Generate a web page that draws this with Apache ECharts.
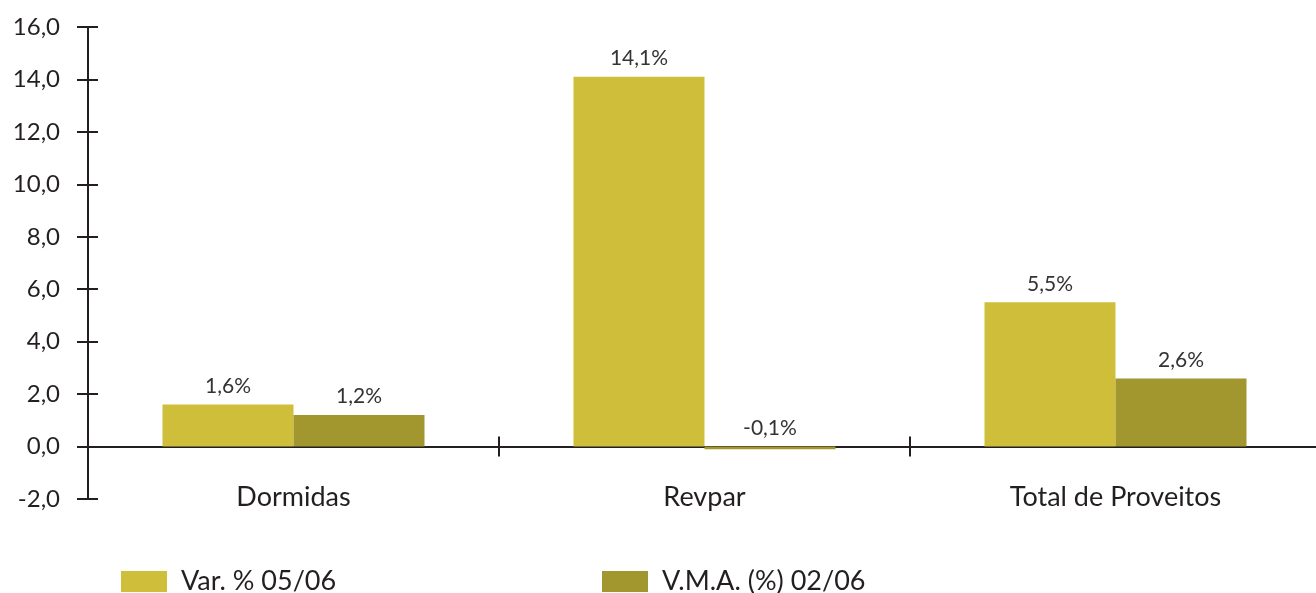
<!DOCTYPE html>
<html>
<head>
<meta charset="utf-8">
<script src="https://cdn.jsdelivr.net/npm/echarts@6/dist/echarts.min.js"></script>
<style>
  html, body { margin: 0; padding: 0; background: #fff; }
  #chart { width: 1316px; height: 593px; }
</style>
</head>
<body>
<div id="chart"></div>
<script>
// Indicator categories
const categories = ['Dormidas', 'Revpar', 'Total de Proveitos'];
// Series names
const seriesNames = ['Var. % 05/06', 'V.M.A. (%) 02/06'];
// Values (%)
const varValues = [1.6, 14.1, 5.5];
const vmaValues = [1.2, -0.1, 2.6];

const FONT = 'Lato, "Open Sans", sans-serif';
const INK = '#231F20';
const COLORS = ['#CFBE3A', '#A2962E'];

const fmtAxis = v => v.toFixed(1).replace('.', ',');
const fmtLabel = p => p.value.toFixed(1).replace('.', ',') + '%';

const chart = echarts.init(document.getElementById('chart'), null, { renderer: 'canvas' });

const yBase = { type: 'value', min: -2, max: 16, interval: 2, splitLine: { show: false } };

const labelStyle = {
  show: true,
  position: 'top',
  distance: 8,
  formatter: fmtLabel,
  fontFamily: FONT,
  fontWeight: 400,
  fontSize: 21,
  color: '#333'
};

const legendText = { fontFamily: FONT, fontWeight: 400, fontSize: 27, color: INK, padding: [0, 0, 0, 9] };

chart.setOption({
  animation: false,
  textStyle: { fontFamily: FONT },
  // the plot runs a little past the right edge of the canvas
  grid: { left: 88, width: 1233, top: 27, bottom: 94, containLabel: false, outerBoundsMode: 'none' },
  legend: [
    {
      data: [seriesNames[0]], left: 121, top: 568, padding: 0,
      itemWidth: 46, itemHeight: 21, icon: 'rect',
      textStyle: legendText
    },
    {
      data: [seriesNames[1]], left: 602, top: 568, padding: 0,
      itemWidth: 46, itemHeight: 21, icon: 'rect',
      textStyle: legendText
    }
  ],
  xAxis: [
    {
      type: 'category', data: categories, position: 'bottom',
      axisLine: { onZero: true, lineStyle: { color: INK, width: 2 } },
      axisTick: { show: true, length: 10, lineStyle: { color: INK, width: 2 } },
      axisLabel: { margin: -15, fontFamily: FONT, fontWeight: 400, fontSize: 27, color: INK }
    },
    {
      type: 'category', data: categories, position: 'bottom',
      axisLine: { show: false, onZero: true },
      axisTick: { show: true, inside: true, length: 10, lineStyle: { color: INK, width: 2 } },
      axisLabel: { show: false }
    }
  ],
  yAxis: [
    Object.assign({}, yBase, {
      position: 'left',
      axisLine: { show: true, lineStyle: { color: INK, width: 2 } },
      axisTick: { show: true, length: 11, lineStyle: { color: INK, width: 2 } },
      axisLabel: { margin: 28, formatter: fmtAxis, fontFamily: FONT, fontWeight: 400, fontSize: 24, color: INK }
    }),
    Object.assign({}, yBase, {
      position: 'left',
      axisLine: { show: false },
      axisTick: { show: true, inside: true, length: 10, lineStyle: { color: INK, width: 2 } },
      axisLabel: { show: false }
    })
  ],
  series: [
    {
      name: seriesNames[0], type: 'bar', data: varValues,
      xAxisIndex: 0, yAxisIndex: 0,
      barWidth: 131, barGap: '0%',
      itemStyle: { color: COLORS[0] },
      label: labelStyle
    },
    {
      name: seriesNames[1], type: 'bar', data: vmaValues,
      xAxisIndex: 0, yAxisIndex: 0,
      barWidth: 131, barGap: '0%',
      itemStyle: { color: COLORS[1] },
      label: labelStyle
    }
  ]
});
</script>
</body>
</html>
